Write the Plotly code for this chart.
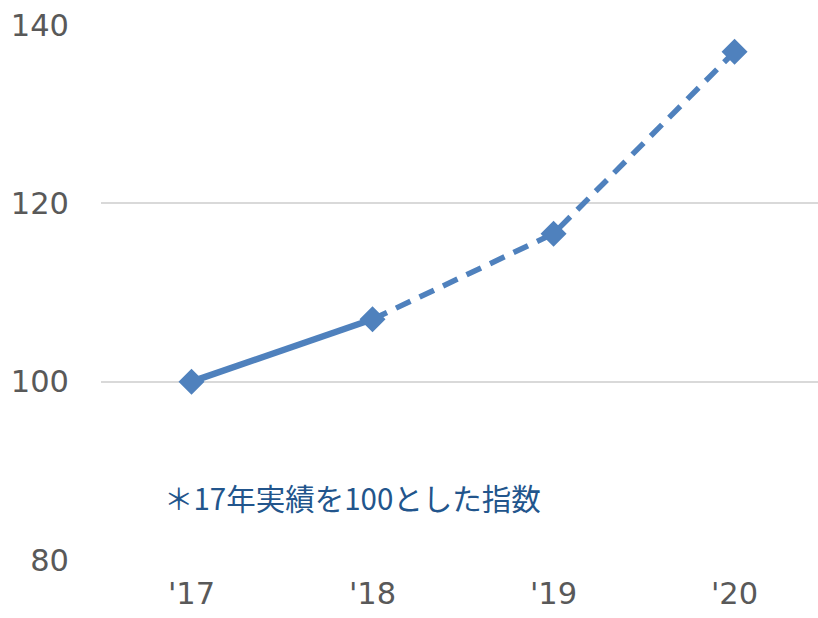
import plotly.graph_objects as go

years = ["'17", "'18", "'19", "'20"]
index_values = [100, 107, 116.6, 137]
actual_years = years[:2]
actual_values = index_values[:2]
forecast_years = years[1:]
forecast_values = index_values[1:]
y_ticks = [80, 100, 120, 140]
note_text = "＊17年実績を100とした指数"

blue = "#4F81BD"
xpos = {y: i for i, y in enumerate(years)}
tick_font = "DejaVu Sans"

fig = go.Figure()
fig.add_trace(go.Scatter(
    x=[xpos[y] for y in actual_years], y=actual_values, mode="lines",
    line=dict(color=blue, width=6.5), showlegend=False, hoverinfo="skip"))
fig.add_trace(go.Scatter(
    x=[xpos[y] for y in forecast_years], y=forecast_values, mode="lines",
    line=dict(color=blue, width=5.5, dash="16px,10px"), showlegend=False, hoverinfo="skip"))
fig.add_trace(go.Scatter(
    x=list(range(len(years))), y=index_values, mode="markers",
    marker=dict(symbol="diamond", size=20, color=blue), showlegend=False))

fig.add_annotation(
    x=-0.163, y=87.1, xref="x", yref="y", text=note_text, showarrow=False,
    xanchor="left", yanchor="middle",
    font=dict(family="Noto Sans CJK JP", size=29.5, color="#22558C"))

fig.update_layout(
    width=818, height=618,
    margin=dict(l=101, r=0, t=25, b=58),
    plot_bgcolor="white", paper_bgcolor="white",
    font=dict(family=tick_font, color="#595959", size=28),
)
fig.update_xaxes(
    range=[-0.5, 3.461], tickmode="array",
    tickvals=list(range(len(years))), ticktext=years,
    showgrid=False, zeroline=False, showline=False, ticks="",
    ticklabelstandoff=12,
    tickfont=dict(family=tick_font, size=30.5, color="#595959"))
fig.update_yaxes(
    range=[80, 140], tickvals=y_ticks, showgrid=True, gridcolor="#D9D9D9",
    gridwidth=1.5, zeroline=False, showline=False, ticks="",
    ticklabelstandoff=31,
    tickfont=dict(family=tick_font, size=30.5, color="#595959"))

fig.write_html("out.html")
